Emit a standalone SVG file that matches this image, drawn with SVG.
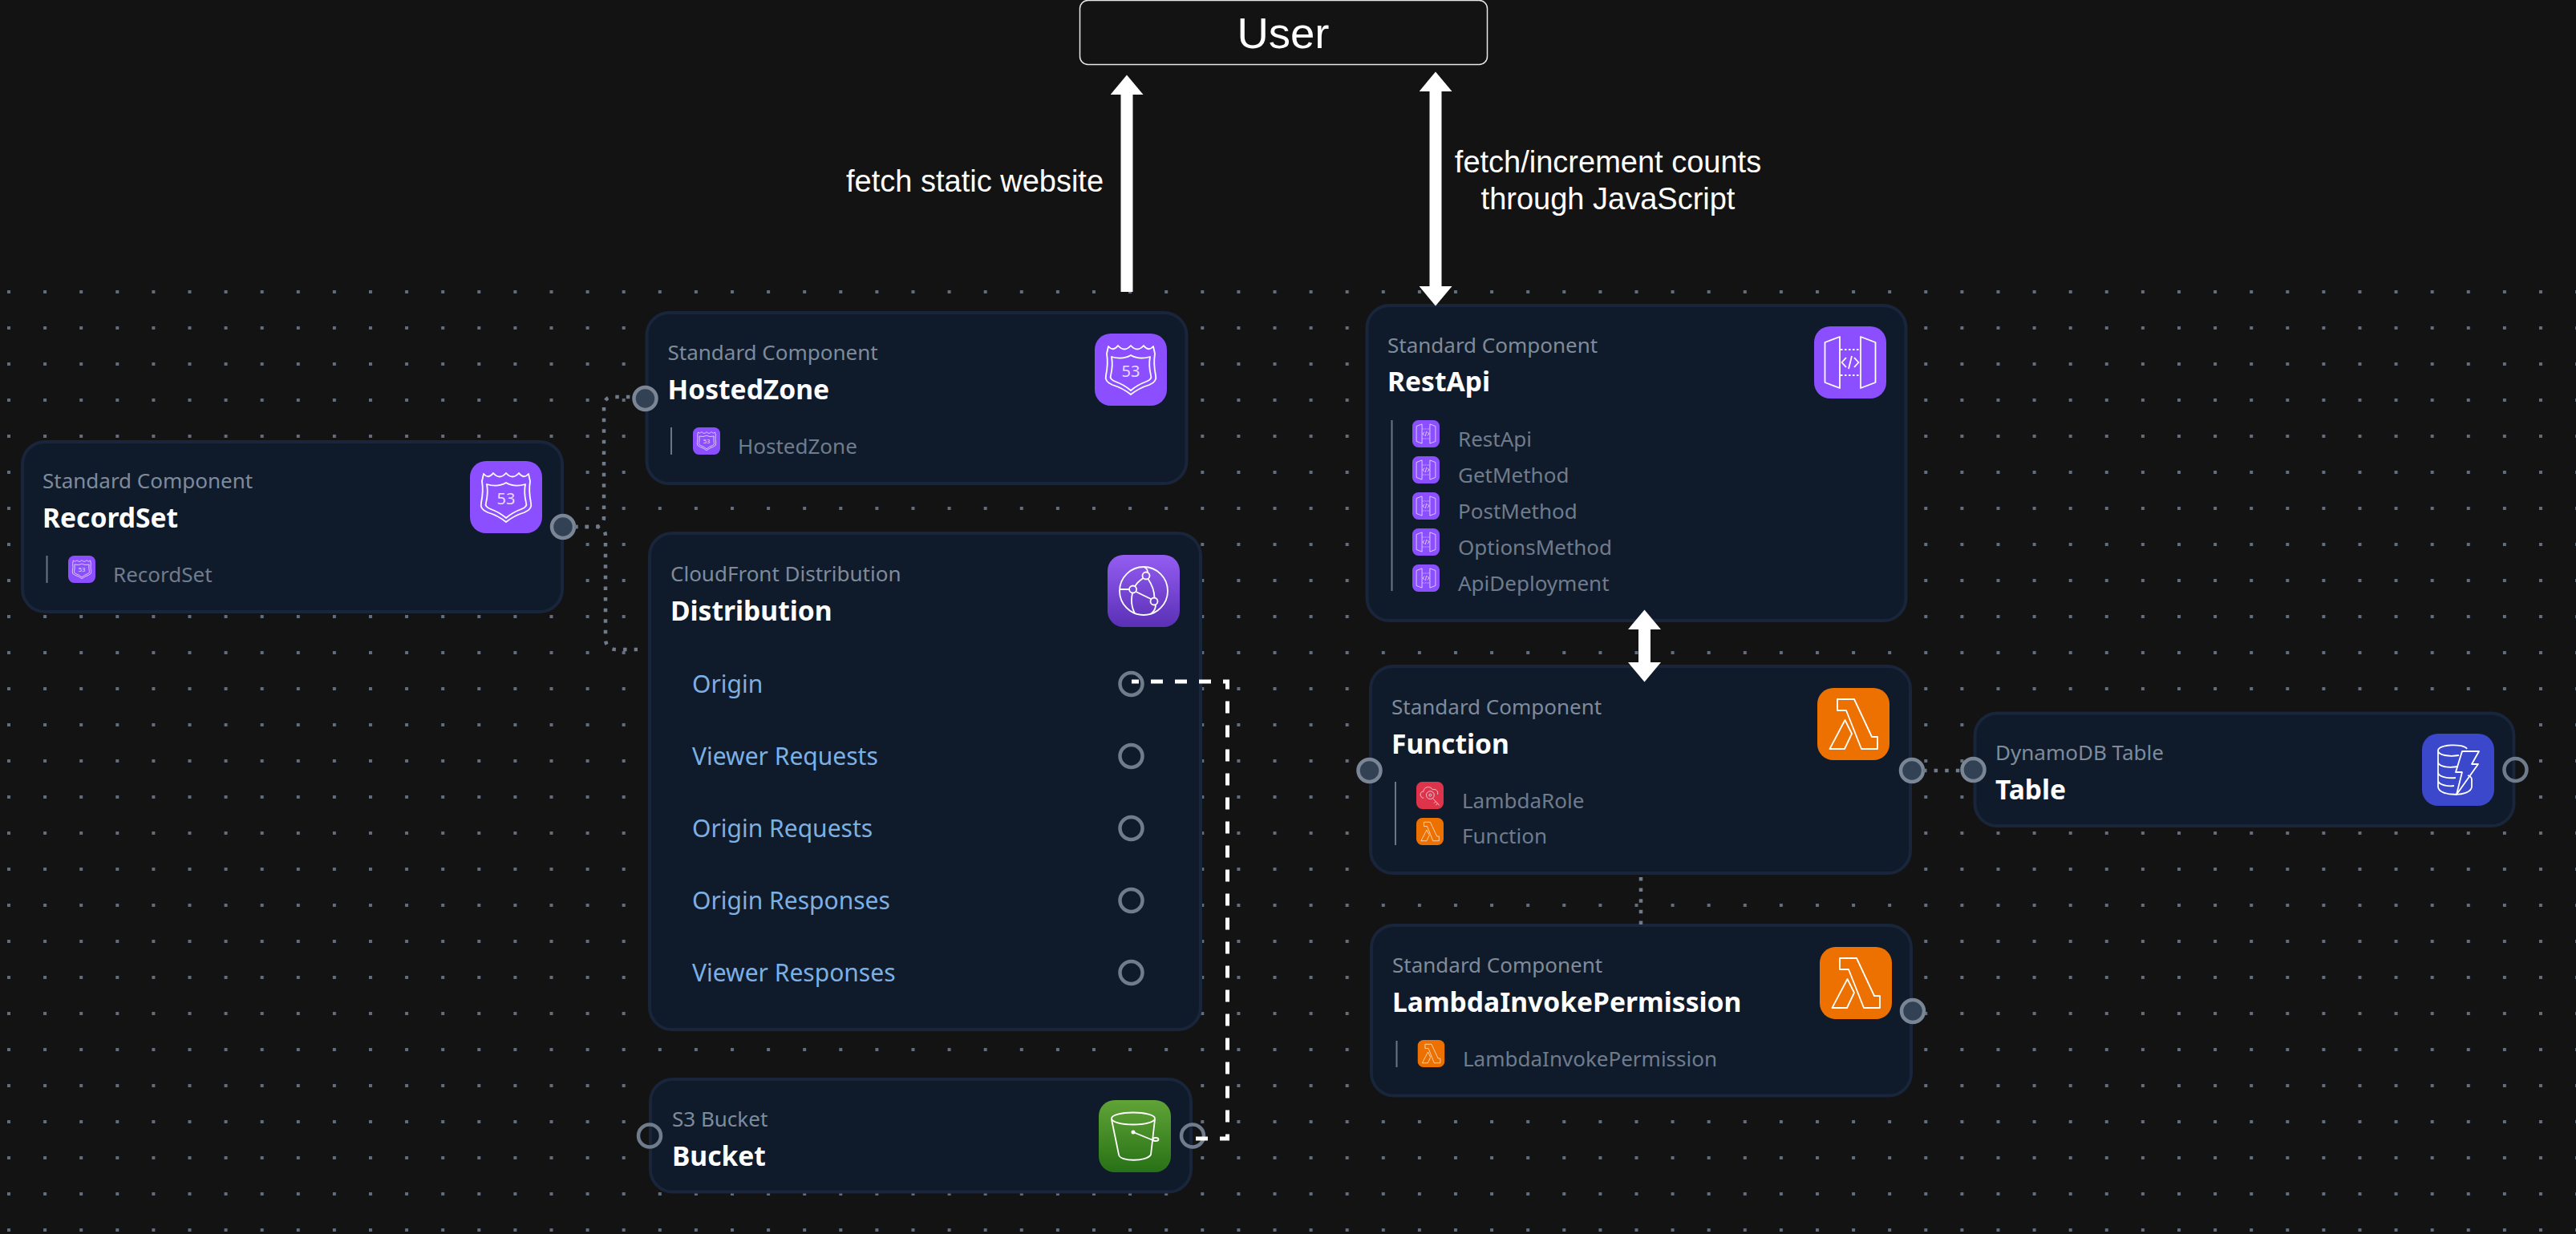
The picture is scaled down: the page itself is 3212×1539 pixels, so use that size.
<svg xmlns="http://www.w3.org/2000/svg" xmlns:xlink="http://www.w3.org/1999/xlink" width="3212" height="1539" viewBox="0 0 3212 1539">
<style>
text{font-family:"Noto Sans","Open Sans",sans-serif}
.n{fill:#0f1b2a;stroke:#18253a;stroke-width:4}
.lbl{font-size:26px;fill:#7f8b9b}
.ttl{font-size:33.6px;font-weight:700;fill:#fff}
.sub{font-size:26px;fill:#6f7c8d}
.row{font-size:30px;fill:#7cb0e4}
.bar{stroke:#6a7686;stroke-width:2}
.hf{fill:#334155;stroke:#7a8696;stroke-width:4.5}
.ho{fill:none;stroke:#6f7c8c;stroke-width:4.5}
.ic{fill:none;stroke:#fff;stroke-width:1.8;stroke-linejoin:round}
.sans{font-family:"Liberation Sans",Arial,sans-serif;fill:#fff}
.arrow{stroke:#fff;stroke-width:15;fill:none}
.dot{fill:none;stroke:#6f7b8b;stroke-width:4.5;stroke-dasharray:4.5 9.1}
.dash{fill:none;stroke:#fff;stroke-width:5;stroke-dasharray:15 15}
</style>
<defs>
<pattern id="dots" patternUnits="userSpaceOnUse" x="9" y="362" width="45.1" height="45"><rect width="4" height="4" fill="#626e7d"/></pattern>
<marker id="head" markerUnits="userSpaceOnUse" markerWidth="25" markerHeight="41" refX="0" refY="20.5" orient="auto-start-reverse"><path d="M0 0L24.5 20.5L0 41Z" fill="#fff"/></marker>
<linearGradient id="gcf" x1="0" y1="0" x2="0" y2="1"><stop offset="0" stop-color="#945df2"/><stop offset="1" stop-color="#5a30b5"/></linearGradient>
<linearGradient id="gs3" x1="0" y1="0" x2="0" y2="1"><stop offset="0" stop-color="#60a337"/><stop offset="1" stop-color="#277116"/></linearGradient>
<symbol id="r53" viewBox="0 0 90 90"><rect width="90" height="90" rx="20" fill="#8c4fff"/><path class="ic" d="M17 16Q23 23 29 15Q37 24 45 15Q53 24 61 15Q67 23 73 16L75 25Q73 38 76 52Q78 60 68 64Q55 68 45 76Q35 68 22 64Q12 60 14 52Q17 38 15 25Z"/><path class="ic" d="M21 29Q35 33 45 27Q55 33 69 29Q67 40 70 52Q72 57 64 60Q53 64 45 71Q37 64 26 60Q18 57 20 52Q23 40 21 29Z"/><text x="45" y="54" text-anchor="middle" font-size="20" fill="#e9dcff">53</text></symbol>
<symbol id="apig" viewBox="0 0 90 90"><rect width="90" height="90" rx="20" fill="#8c4fff"/><path class="ic" d="M13.5 20L32 13V77L13.5 70ZM76.5 20L58 13V77L76.5 70Z"/><path class="ic" stroke-dasharray="2.5 2.5" d="M33 29H57M33 61H57"/><path class="ic" d="M40 39L34.5 45L40 51M47 37L43 53M50 39L55.5 45L50 51"/></symbol>
<symbol id="lam" viewBox="0 0 90 90"><rect width="90" height="90" rx="20" fill="#ed7100"/><path class="ic" d="M25 14H46L68 61H75V76H55L36 28H25ZM34.5 40L15.5 76H34L43 57Z"/></symbol>
<symbol id="iam" viewBox="0 0 90 90"><rect width="90" height="90" rx="20" fill="#dd344c"/><path class="ic" d="M24 54C10 52 10 32 24 32C24 16 46 12 54 26C64 22 74 32 70 42"/><circle class="ic" cx="46" cy="44" r="13"/><circle class="ic" cx="46" cy="44" r="4"/><path class="ic" d="M54 54L76 78M64 65L58 71M70 72L64 77"/></symbol>
<symbol id="cf" viewBox="0 0 90 90"><rect width="90" height="90" rx="20" fill="url(#gcf)"/><circle class="ic" cx="45" cy="45" r="30"/><circle class="ic" cx="48" cy="26" r="4.5"/><circle class="ic" cx="31.6" cy="43" r="4.5"/><circle class="ic" cx="58" cy="58" r="4.5"/><path class="ic" d="M35.5 46L54 55M50.500 30Q58 41 58.500 53M44.500 29Q37 34 34 39.500M15 43H27M31 47.500Q28 62 34 73M50 21.500Q50 17 45 15M60 62.500Q60 69 54 73.500"/></symbol>
<symbol id="s3" viewBox="0 0 90 90"><rect width="90" height="90" rx="20" fill="url(#gs3)"/><ellipse class="ic" cx="43" cy="23" rx="27" ry="7.500"/><path class="ic" d="M16 24L25 68C26 77 60 77 65 68L70 24"/><path class="ic" d="M43 40L70 51"/><ellipse class="ic" cx="71" cy="49" rx="3.500" ry="2"/><circle cx="43" cy="40" r="2.500" fill="#fff"/></symbol>
<symbol id="ddb" viewBox="0 0 90 90"><rect width="90" height="90" rx="20" fill="#3b48cc"/><path class="ic" d="M50 22H71L62 38H70L43 76L50 48H42Z"/><path class="ic" d="M20 21C20 13 52 12 56 19M20 21C20 27 34 29 46 27M20 21V66C20 79 62 79 62 66V57C62 55 60 53 57 52M20 35C20 41 32 43 45 41M20 48C20 54 32 56 42 55M20 58C20 64 32 66 40 65"/></symbol>
</defs>
<rect width="3212" height="1539" fill="#131313"/>
<rect x="0" y="360" width="3212" height="1179" fill="url(#dots)"/>

<g id="user">
<rect x="1346.500" y="0.500" width="508" height="80" rx="10" fill="#131313" stroke="#e8e8e8" stroke-width="1.5"/>
<text class="sans" x="1600" y="60" text-anchor="middle" font-size="54.500">User</text>
</g>

<g id="RecordSet">
<rect class="n" x="28" y="551" width="673" height="212" rx="28"/>
<text class="lbl" x="53" y="609">Standard Component</text>
<text class="ttl" x="53" y="658">RecordSet</text>
<use href="#r53" x="586" y="575" width="90" height="90"/>
<line class="bar" x1="58.500" y1="693" x2="58.500" y2="727"/>
<use href="#r53" x="85" y="693" width="34" height="34"/>
<text class="sub" x="141" y="726">RecordSet</text>
<circle class="hf" cx="702" cy="657" r="14"/>
</g>

<g id="HostedZone">
<rect class="n" x="806.500" y="390" width="673" height="213" rx="28"/>
<text class="lbl" x="832.500" y="449">Standard Component</text>
<text class="ttl" x="832.500" y="498">HostedZone</text>
<use href="#r53" x="1365" y="416" width="90" height="90"/>
<line class="bar" x1="837" y1="533" x2="837" y2="567"/>
<use href="#r53" x="864" y="533" width="34" height="34"/>
<text class="sub" x="920" y="566">HostedZone</text>
<circle class="hf" cx="804.500" cy="497" r="14"/>
</g>

<g id="Distribution">
<rect class="n" x="810" y="665" width="687" height="619" rx="28"/>
<text class="lbl" x="836" y="725">CloudFront Distribution</text>
<text class="ttl" x="836" y="774">Distribution</text>
<use href="#cf" x="1381" y="692" width="90" height="90"/>
<text class="row" x="863" y="864">Origin</text>
<text class="row" x="863" y="954">Viewer Requests</text>
<text class="row" x="863" y="1044">Origin Requests</text>
<text class="row" x="863" y="1134">Origin Responses</text>
<text class="row" x="863" y="1224">Viewer Responses</text>
<circle class="ho" cx="1410.500" cy="853" r="14"/>
<circle class="ho" cx="1410.500" cy="943" r="14"/>
<circle class="ho" cx="1410.500" cy="1033" r="14"/>
<circle class="ho" cx="1410.500" cy="1123" r="14"/>
<circle class="ho" cx="1410.500" cy="1213" r="14"/>
</g>

<g id="Bucket">
<rect class="n" x="811" y="1346" width="674" height="140.500" rx="28"/>
<text class="lbl" x="838" y="1405">S3 Bucket</text>
<text class="ttl" x="838" y="1454">Bucket</text>
<use href="#s3" x="1370" y="1372" width="90" height="90"/>
<circle class="ho" cx="810" cy="1416.500" r="14"/>
<circle class="ho" cx="1487" cy="1416.500" r="14"/>
</g>

<g id="RestApi">
<rect class="n" x="1704.500" y="381" width="672" height="393" rx="28"/>
<text class="lbl" x="1730" y="440">Standard Component</text>
<text class="ttl" x="1730" y="488">RestApi</text>
<use href="#apig" x="2262" y="407" width="90" height="90"/>
<line class="bar" x1="1735.500" y1="524" x2="1735.500" y2="737"/>
<use href="#apig" x="1761" y="524" width="34" height="34"/>
<use href="#apig" x="1761" y="569" width="34" height="34"/>
<use href="#apig" x="1761" y="614" width="34" height="34"/>
<use href="#apig" x="1761" y="659" width="34" height="34"/>
<use href="#apig" x="1761" y="704" width="34" height="34"/>
<text class="sub" x="1818" y="557">RestApi</text>
<text class="sub" x="1818" y="602">GetMethod</text>
<text class="sub" x="1818" y="647">PostMethod</text>
<text class="sub" x="1818" y="692">OptionsMethod</text>
<text class="sub" x="1818" y="737">ApiDeployment</text>
</g>

<g id="Function">
<rect class="n" x="1709" y="831" width="673" height="258" rx="28"/>
<text class="lbl" x="1735" y="891">Standard Component</text>
<text class="ttl" x="1735" y="940">Function</text>
<use href="#lam" x="2266" y="858" width="90" height="90"/>
<line class="bar" x1="1740" y1="975" x2="1740" y2="1054"/>
<use href="#iam" x="1766" y="975" width="34" height="34"/>
<use href="#lam" x="1766" y="1020" width="34" height="34"/>
<text class="sub" x="1823" y="1008">LambdaRole</text>
<text class="sub" x="1823" y="1052">Function</text>
<circle class="hf" cx="1707.500" cy="961" r="14"/>
<circle class="hf" cx="2384" cy="961" r="14"/>
</g>

<g id="LambdaInvokePermission">
<rect class="n" x="1710" y="1154" width="673" height="212.500" rx="28"/>
<text class="lbl" x="1736" y="1213">Standard Component</text>
<text class="ttl" x="1736" y="1262">LambdaInvokePermission</text>
<use href="#lam" x="2269" y="1181" width="90" height="90"/>
<line class="bar" x1="1741.500" y1="1298" x2="1741.500" y2="1331"/>
<use href="#lam" x="1767.500" y="1297" width="34" height="34"/>
<text class="sub" x="1824" y="1330">LambdaInvokePermission</text>
<circle class="hf" cx="2385" cy="1261" r="14"/>
</g>

<g id="Table">
<rect class="n" x="2462.500" y="889.500" width="672" height="140.500" rx="28"/>
<text class="lbl" x="2488" y="948">DynamoDB Table</text>
<text class="ttl" x="2488" y="997">Table</text>
<use href="#ddb" x="3020" y="915" width="90" height="90"/>
<circle class="hf" cx="2460.500" cy="960" r="14"/>
<circle class="ho" cx="3136.500" cy="960" r="14"/>
</g>

<g id="connectors">
<path class="dot" d="M716 657H741Q753 657 753 645V507Q753 495 765 495H790"/>
<path class="dot" d="M716 657H743Q755 657 755 669V796Q755 810 769 810H795"/>
<path class="dot" d="M2398 961H2447"/>
<path class="dot" d="M2046 1094V1154"/>
<path class="dash" d="M1491 1420H1530.500V850H1411"/>
<line class="arrow" x1="1405" y1="364" x2="1405" y2="118" marker-end="url(#head)"/>
<line class="arrow" x1="1790" y1="357" x2="1790" y2="114" marker-start="url(#head)" marker-end="url(#head)"/>
<line class="arrow" x1="2050.500" y1="785" x2="2050.500" y2="826" marker-start="url(#head)" marker-end="url(#head)"/>
<text class="sans" x="1055" y="239" font-size="38">fetch static website</text>
<text class="sans" x="2005" y="215" font-size="38" text-anchor="middle">fetch/increment counts</text>
<text class="sans" x="2005" y="261" font-size="38" text-anchor="middle">through JavaScript</text>
</g>
</svg>
